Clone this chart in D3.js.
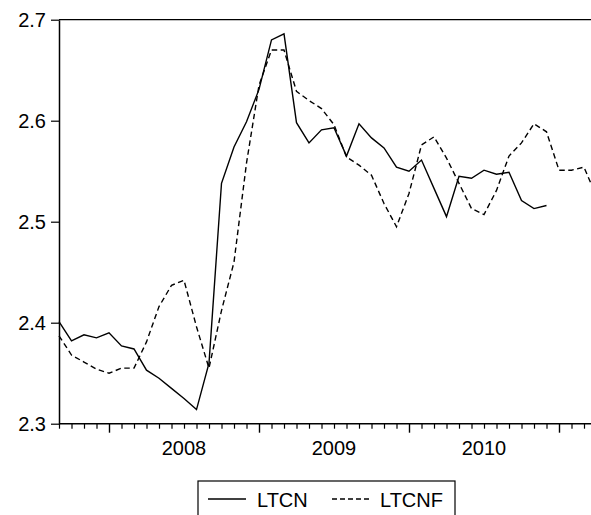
<!DOCTYPE html>
<html>
<head>
<meta charset="utf-8">
<script src="https://cdn.jsdelivr.net/npm/d3@7"></script>
<style>
  body { margin: 0; background: #fff; }
  svg { display: block; }
  text { font-family: "Liberation Sans", Arial, sans-serif; fill: #000; }
</style>
</head>
<body>
<svg id="chart" width="591" height="515"></svg>
<script>
// Monthly observations, Sep 2007 – Apr 2011
const months = [
  "2007-09","2007-10","2007-11","2007-12",
  "2008-01","2008-02","2008-03","2008-04","2008-05","2008-06",
  "2008-07","2008-08","2008-09","2008-10","2008-11","2008-12",
  "2009-01","2009-02","2009-03","2009-04","2009-05","2009-06",
  "2009-07","2009-08","2009-09","2009-10","2009-11","2009-12",
  "2010-01","2010-02","2010-03","2010-04","2010-05","2010-06",
  "2010-07","2010-08","2010-09","2010-10","2010-11","2010-12",
  "2011-01","2011-02","2011-03","2011-04"
];

// LTCN (actual)
const ltcn = [
  2.401, 2.382, 2.388, 2.385, 2.390, 2.377, 2.374, 2.353, 2.345, 2.335,
  2.325, 2.314, 2.360, 2.538, 2.574, 2.599, 2.631, 2.680, 2.686, 2.598,
  2.578, 2.591, 2.593, 2.565, 2.597, 2.583, 2.573, 2.554, 2.550, 2.561,
  2.533, 2.505, 2.545, 2.543, 2.551, 2.547, 2.549, 2.521, 2.513, 2.516
];

// LTCNF (forecast)
const ltcnf = [
  2.387, 2.368, 2.361, 2.354, 2.350, 2.355, 2.355, 2.381, 2.416, 2.437,
  2.442, 2.396, 2.355, 2.412, 2.460, 2.558, 2.635, 2.670, 2.670, 2.629,
  2.620, 2.612, 2.596, 2.564, 2.556, 2.546, 2.518, 2.495, 2.528, 2.576,
  2.584, 2.563, 2.538, 2.513, 2.507, 2.531, 2.565, 2.578, 2.597, 2.589,
  2.551, 2.551, 2.554, 2.525
];

const yTicks = [2.3, 2.4, 2.5, 2.6, 2.7];
const yearLabels = ["2008", "2009", "2010"];
const seriesNames = ["LTCN", "LTCNF"];

const W = 591;
const plotLeft = 59, plotTop = 19.7, plotBottom = 423.7;
const monthStep = 12.5;

const svg = d3.select("#chart");

const x = d3.scaleLinear()
  .domain([0, months.length - 1])
  .range([plotLeft, plotLeft + (months.length - 1) * monthStep]);

const y = d3.scaleLinear()
  .domain([2.3, 2.7])
  .range([plotBottom, plotTop]);

// frame: top edge
svg.append("line")
  .attr("x1", plotLeft).attr("x2", W)
  .attr("y1", y(2.7)).attr("y2", y(2.7))
  .attr("stroke", "#000").attr("stroke-width", 1.2);

// y axis
const yAxis = svg.append("g")
  .attr("transform", `translate(${plotLeft},0)`)
  .call(d3.axisLeft(y).tickValues(yTicks).tickSize(8).tickSizeOuter(0)
    .tickFormat(d3.format(".1f")).tickPadding(5));
yAxis.select(".domain").attr("stroke-width", 1.5);
yAxis.selectAll(".tick line").attr("stroke-width", 1.2);
yAxis.selectAll("text").attr("font-size", 20).style("font-family", '"Liberation Sans", Arial, sans-serif');

// x axis: monthly minor ticks, longer ticks at January
const monthIdx = months.map((m, i) => i).filter(i => x(i) <= W);
const janIdx = monthIdx.filter(i => months[i].endsWith("-01"));

svg.append("line")
  .attr("x1", plotLeft).attr("x2", W)
  .attr("y1", plotBottom).attr("y2", plotBottom)
  .attr("stroke", "#000").attr("stroke-width", 1.5);

const xMinor = svg.append("g")
  .attr("transform", `translate(0,${plotBottom})`)
  .call(d3.axisBottom(x).tickValues(monthIdx.filter(i => !janIdx.includes(i)))
    .tickSize(5).tickSizeOuter(0).tickFormat(""));
xMinor.select(".domain").remove();
xMinor.selectAll(".tick line").attr("stroke-width", 1.2);

const xMajor = svg.append("g")
  .attr("transform", `translate(0,${plotBottom})`)
  .call(d3.axisBottom(x).tickValues(janIdx).tickSize(9).tickSizeOuter(0).tickFormat(""));
xMajor.select(".domain").remove();
xMajor.selectAll(".tick line").attr("stroke-width", 1.4);

// year labels centred on each year's span
svg.append("g").selectAll("text")
  .data(yearLabels)
  .join("text")
  .attr("x", d => {
    const s = months.indexOf(d + "-01");
    const e = months.indexOf((+d + 1) + "-01");
    return x((s + e) / 2);
  })
  .attr("y", 455)
  .attr("text-anchor", "middle")
  .attr("font-size", 20)
  .text(d => d);

// series lines
const line = d3.line().x((d, i) => x(i)).y(d => y(d));

svg.append("path")
  .datum(ltcn)
  .attr("d", line)
  .attr("fill", "none")
  .attr("stroke", "#000")
  .attr("stroke-width", 1.4)
  .attr("stroke-linejoin", "miter");

svg.append("path")
  .datum(ltcnf)
  .attr("d", line)
  .attr("fill", "none")
  .attr("stroke", "#000")
  .attr("stroke-width", 1.4)
  .attr("stroke-dasharray", "5.5,3.5");

// legend
const lg = svg.append("g");
lg.append("rect")
  .attr("x", 198).attr("y", 481)
  .attr("width", 257).attr("height", 50)
  .attr("fill", "#fff").attr("stroke", "#000").attr("stroke-width", 1.2);

const items = [
  { name: seriesNames[0], dash: null, lx: 208, tx: 257 },
  { name: seriesNames[1], dash: "5,3", lx: 332, tx: 380 }
];
items.forEach(it => {
  lg.append("line")
    .attr("x1", it.lx).attr("x2", it.lx + 38)
    .attr("y1", 499).attr("y2", 499)
    .attr("stroke", "#000").attr("stroke-width", 1.3)
    .attr("stroke-dasharray", it.dash);
  lg.append("text")
    .attr("x", it.tx).attr("y", 506.5)
    .attr("font-size", 20)
    .text(it.name);
});
</script>
</body>
</html>
